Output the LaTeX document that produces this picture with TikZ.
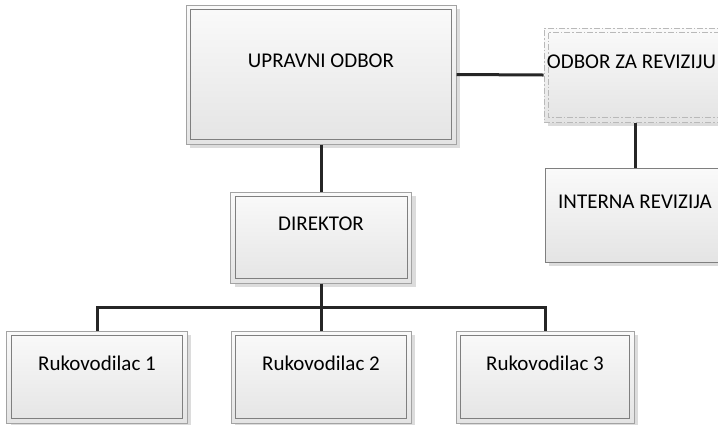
\documentclass[tikz,border=0pt]{standalone}
\usepackage{fontspec}
\setmainfont{Carlito}
\usetikzlibrary{shadows}
\definecolor{linkcol}{HTML}{262626}
\definecolor{outerln}{HTML}{A3A3A3}
\definecolor{innerln}{HTML}{7F7F7F}
\definecolor{shadowcol}{HTML}{DCDCDC}
\definecolor{filltop}{HTML}{FAFAFA}
\definecolor{fillbot}{HTML}{E4E4E4}
\tikzset{
  orgbox/.style={rectangle, draw=outerln, line width=1bp,
    top color=filltop, bottom color=fillbot,
    minimum width=#1, minimum height=92bp, inner sep=0pt,
    font=\fontsize{21bp}{24bp}\selectfont,
    text height=10bp, text depth=24bp,
    general shadow={shadow xshift=4bp, shadow yshift=-4bp, fill=shadowcol}},
  innerframe/.style={path picture={
    \draw[innerln, line width=1bp]
      ([shift={(4.5bp,-4.5bp)}]path picture bounding box.north west) rectangle
      ([shift={(-4.5bp,4.5bp)}]path picture bounding box.south east);}},
  dashframe/.style={draw=gray!55, dash pattern=on 6bp off 2bp on 1.5bp off 2bp,
    path picture={
    \draw[gray!55, line width=1bp, dash pattern=on 6bp off 2bp on 1.5bp off 2bp]
      ([shift={(4.5bp,-4.5bp)}]path picture bounding box.north west) rectangle
      ([shift={(-4.5bp,4.5bp)}]path picture bounding box.south east);}},
  singleframe/.style={draw=innerln},
  link/.style={draw=linkcol, line width=3bp}
}
\begin{document}
\begin{tikzpicture}[x=1bp, y=-1bp]
  \useasboundingbox (0,0) rectangle (718,424);
  \clip (0,0) rectangle (718,424);

  % board
  \node[orgbox=270bp, minimum height=139bp, innerframe] (upravni) at (321,74.5) {UPRAVNI ODBOR};
  % audit committee and internal audit
  \node[orgbox=182bp, minimum height=94bp, dashframe] (odbor) at (635,75) {\kern-7bp ODBOR ZA REVIZIJU};
  \node[orgbox=180bp, minimum height=94bp, singleframe] (interna) at (635,215) {INTERNA REVIZIJA};
  % director
  \node[orgbox=181bp, minimum height=91bp, innerframe] (direktor) at (321,237.5) {DIREKTOR};
  % managers
  \node[orgbox=180bp, innerframe] (ruk1) at (97,377) {Rukovodilac 1};
  \node[orgbox=180bp, innerframe] (ruk2) at (321,377) {Rukovodilac 2};
  \node[orgbox=178bp, innerframe] (ruk3) at (545,377) {Rukovodilac 3};

  % connectors
  \draw[link] (upravni.east) -- (odbor.west);
  \draw[link] (odbor.south) -- (interna.north);
  \draw[link] (upravni.south) -- (direktor.north);
  \coordinate (bus) at (321,307);
  \draw[link] (direktor.south) -- (bus);
  \draw[link] (ruk1.north) |- (bus) -| (ruk3.north);
  \draw[link] (bus) -- (ruk2.north);
\end{tikzpicture}
\end{document}
